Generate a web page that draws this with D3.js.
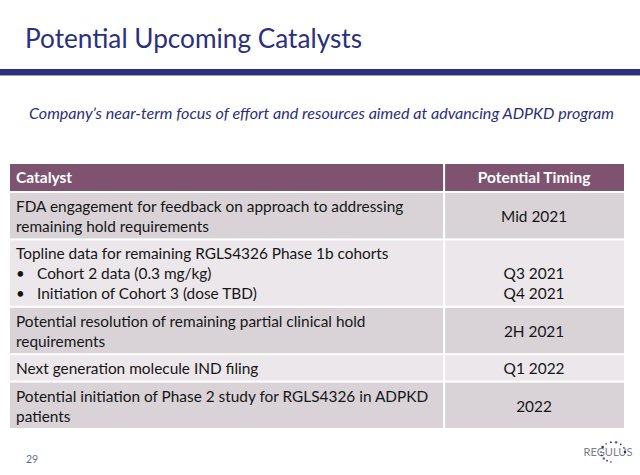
<!DOCTYPE html>
<html>
<head>
<meta charset="utf-8">
<script src="https://cdn.jsdelivr.net/npm/d3@7"></script>
<style>
  body { margin: 0; background: #fff; }
  svg { display: block; font-family: Lato, "Open Sans", sans-serif; }
</style>
</head>
<body>
<svg id="slide" width="640" height="475"></svg>
<script>
const title = "Potential Upcoming Catalysts"
const subtitle = "Company\u2019s near-term focus of effort and resources aimed at advancing ADPKD program"
const headers = ["Catalyst", "Potential Timing"]

// each catalyst is a list of lines, "\u2022 " marks a bullet line
const catalysts = [
  ["FDA engagement for feedback on approach to addressing", "remaining hold requirements"],
  ["Topline data for remaining RGLS4326 Phase 1b cohorts", "\u2022 Cohort 2 data (0.3 mg/kg)", "\u2022 Initiation of Cohort 3 (dose TBD)"],
  ["Potential resolution of remaining partial clinical hold", "requirements"],
  ["Next generation molecule IND filing"],
  ["Potential initiation of Phase 2 study for RGLS4326 in ADPKD", "patients"]
]
// timing per row, placed on the catalyst line index
const timings = [
  [{line: 0.5, text: "Mid 2021"}],
  [{line: 1, text: "Q3 2021"}, {line: 2, text: "Q4 2021"}],
  [{line: 0.5, text: "2H 2021"}],
  [{line: 0, text: "Q1 2022"}],
  [{line: 0.5, text: "2022"}]
]
const pageNumber = "29"

let svg = d3.select("#slide")
let navy = "#2b2f7e"

// title + rule
svg.append("text")
  .attr("x", 25).attr("y", 48)
  .attr("fill", navy)
  .attr("font-size", 27)
  .attr("textLength", 337).attr("lengthAdjust", "spacingAndGlyphs")
  .text(title)

svg.append("rect")
  .attr("x", 0).attr("y", 69).attr("width", 640).attr("height", 6)
  .attr("fill", navy)
svg.append("rect")
  .attr("x", 0).attr("y", 75).attr("width", 640).attr("height", 1)
  .attr("fill", "#9fa2c8")

svg.append("text")
  .attr("x", 29).attr("y", 119)
  .attr("fill", navy)
  .attr("font-size", 15)
  .attr("font-style", "italic")
  .attr("textLength", 585).attr("lengthAdjust", "spacingAndGlyphs")
  .text(subtitle)

// table layout
let x = d3.scaleLinear().domain([0, 1]).range([10, 624])
let split = 0.707
let lineH = 20, pad = 2.7, gap = 2
let headTop = 164, headH = 27

let rowH = catalysts.map(c => c.length * lineH + pad * 2)
let rowTop = []
let acc = headTop + headH + gap
rowH.forEach(h => { rowTop.push(acc); acc += h + gap })
acc -= gap

let y = d3.scaleLinear().domain([0, 1]).range([0, lineH])
let timingX = (x(split) + x(1)) / 2
let base = 16.3

// header
svg.append("rect")
  .attr("x", x(0)).attr("y", headTop)
  .attr("width", x(1) - x(0)).attr("height", headH)
  .attr("fill", "#7e5370")
svg.append("text")
  .attr("x", x(0) + 6).attr("y", headTop + 19)
  .attr("fill", "#fff").attr("font-weight", "bold").attr("font-size", 15.5)
  .text(headers[0])
svg.append("text")
  .attr("x", timingX).attr("y", headTop + 19)
  .attr("text-anchor", "middle")
  .attr("fill", "#fff").attr("font-weight", "bold").attr("font-size", 15.5)
  .text(headers[1])

// body rows
let rows = svg.selectAll("g.row")
  .data(catalysts).enter()
  .append("g")
  .attr("class", "row")
  .attr("transform", (d, i) => `translate(0, ${rowTop[i]})`)

rows.append("rect")
  .attr("x", x(0)).attr("y", 0)
  .attr("width", x(1) - x(0)).attr("height", (d, i) => rowH[i])
  .attr("fill", (d, i) => i % 2 == 0 ? "#d9d3d8" : "#ece7eb")

rows.selectAll("text.cat")
  .data(d => d).enter()
  .append("text")
  .attr("class", "cat")
  .attr("x", d => d.startsWith("\u2022") ? x(0) + 27 : x(0) + 6)
  .attr("y", (d, j) => pad + y(j) + base)
  .attr("font-size", 15.4)
  .attr("fill", "#161616")
  .text(d => d.replace("\u2022 ", ""))

rows.selectAll("text.bullet")
  .data(d => d.filter(l => l.startsWith("\u2022")).map(l => d.indexOf(l))).enter()
  .append("text")
  .attr("class", "bullet")
  .attr("x", x(0) + 6)
  .attr("y", j => pad + y(j) + base)
  .attr("font-size", 15)
  .attr("fill", "#161616")
  .text("\u2022")

rows.selectAll("text.timing")
  .data((d, i) => timings[i]).enter()
  .append("text")
  .attr("class", "timing")
  .attr("x", timingX)
  .attr("y", t => pad + y(t.line) + base)
  .attr("text-anchor", "middle")
  .attr("font-size", 15.4)
  .attr("fill", "#161616")
  .text(t => t.text)

// column divider
svg.append("line")
  .attr("x1", x(split)).attr("x2", x(split))
  .attr("y1", headTop).attr("y2", acc)
  .attr("stroke", "#fff").attr("stroke-width", 2)

// footer
svg.append("text")
  .attr("x", 26).attr("y", 463)
  .attr("font-size", 10.5)
  .attr("fill", "#5f6d9c")
  .text(pageNumber)

let logo = svg.append("g").attr("transform", "translate(608, 456)")
logo.append("text")
  .attr("x", 0).attr("y", 0)
  .attr("text-anchor", "middle")
  .attr("font-size", 11)
  .attr("fill", "#7d7f88")
  .attr("textLength", 49).attr("lengthAdjust", "spacingAndGlyphs")
  .text("REGULUS")
let dots = [-150, -125, -100, -75, -50, -25, 0, 100, 120, 140, 160, 180]
logo.selectAll("circle")
  .data(dots).enter()
  .append("circle")
  .attr("cx", a => 5 + 12 * Math.cos(a * Math.PI / 180))
  .attr("cy", a => -4 + 10 * Math.sin(a * Math.PI / 180))
  .attr("r", (a, i) => i % 3 == 0 ? 1.3 : 0.9)
  .attr("fill", (a, i) => i % 2 == 0 ? "#2b2f7e" : "#8a5a86")
</script>
</body>
</html>
